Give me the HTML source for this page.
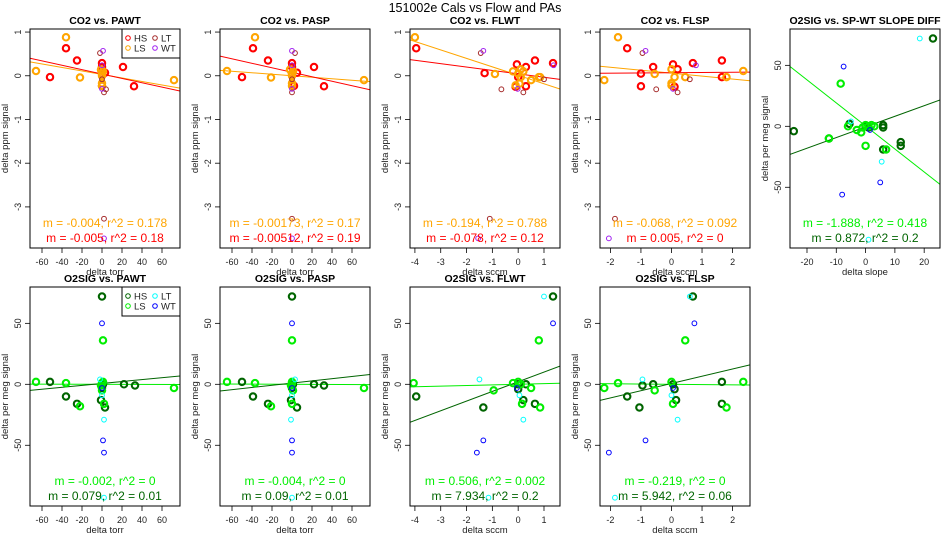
<!DOCTYPE html>
<html><head><meta charset="utf-8"><style>
body{margin:0;background:#fff;}
svg{display:block;font-family:"Liberation Sans",sans-serif;}
</style></head><body>
<svg id="c" width="950" height="550" viewBox="0 0 950 550">
<text x="475" y="12" text-anchor="middle" font-size="12.5">151002e   Cals vs Flow and PAs</text>
</svg>
<script>
// ---- data (x, y) per panel / group ----
const co2pawt_hs=[[-36,0.63],[-25,0.35],[-52,-0.03],[21,0.2],[32,-0.24],[0,0.29],[0,0.2],[3,0.07],[0,-0.23],[0,0.05]];
const co2pawt_ls=[[-36,0.88],[-66,0.11],[-22,-0.04],[72,-0.1],[-1,0.14],[0,0.05],[0,-0.23],[0,-0.17],[1,0.1],[0,0]];
const co2pawt_lt=[[-2,0.52],[2,-0.38],[4,-0.31],[0,-0.08],[2,-3.27]];
const co2pawt_wt=[[1,0.57],[0,0.24],[0,-0.3],[2,-3.72]];
const co2pasp_hs=[[-39,0.63],[-24,0.35],[-50,-0.03],[22,0.2],[32,-0.24],[0,0.29],[0,0.2],[5,0.07],[2,-0.23],[0,0.05]];
const co2pasp_ls=[[-37,0.88],[-65,0.11],[-21,-0.04],[72,-0.1],[-2,0.14],[0,0.05],[0,-0.23],[0,-0.17],[1,0.1],[0,0]];
const co2pasp_lt=[[0,-0.38],[3,0.52],[0,-0.08],[0,-3.27]];
const co2pasp_wt=[[0,0.57],[0,0.24],[0,-0.3],[0,-3.72]];
const co2flwt_hs=[[-3.95,0.63],[-1.3,0.06],[-0.05,0.26],[0.3,0.2],[0.65,0.35],[1.35,0.29],[0,-0.03],[0.3,-0.24],[0.1,0.15],[-0.1,-0.25]];
const co2flwt_ls=[[-4.0,0.88],[-0.2,0.1],[0,0.05],[0.1,-0.03],[0.2,0.1],[0.1,0.15],[-0.1,-0.22],[-0.9,0.04],[0.5,-0.1],[0.8,-0.03],[0.85,-0.03],[0.05,-0.18]];
const co2flwt_lt=[[-1.45,0.52],[-0.65,-0.31],[0.2,-0.38],[1.0,-0.08],[-1.1,-3.27]];
const co2flwt_wt=[[-1.35,0.57],[-0.02,-0.3],[1.37,0.24],[-1.55,-3.72]];
const co2flsp_hs=[[-1.45,0.63],[-1.0,0.05],[-0.6,0.2],[-1.0,-0.24],[0.05,0.26],[0.2,0.15],[0.7,0.29],[1.65,0.35],[1.65,-0.03],[0.1,-0.25]];
const co2flsp_ls=[[-1.75,0.88],[-2.2,-0.1],[-0.55,0.04],[0,0.15],[0,-0.17],[0,-0.22],[0.1,-0.03],[0.45,-0.03],[1.8,-0.03],[2.35,0.11]];
const co2flsp_lt=[[-0.95,0.52],[-0.5,-0.31],[0.2,-0.38],[0.6,-0.08],[-1.85,-3.27]];
const co2flsp_wt=[[-0.85,0.57],[0.05,-0.3],[0.8,0.24],[-2.05,-3.72]];
const slope_hs=[[23,72],[-24.5,-4],[-12.5,-10],[-5.5,2],[6,1],[6,-1],[6,-19],[12,-13],[12,-16],[1,-1],[0,0]];
const slope_ls=[[-8.5,35],[-6,0],[-1.5,-5],[-3,-3],[0,-16],[1,0],[2,1],[3,0],[-1,-1],[7,-19],[-12.5,-10],[0,1]];
const slope_lt=[[18.5,72],[-5,4],[5.5,-29],[1,-93]];
const slope_wt=[[-7.5,49],[-8,-56],[5,-46],[1.5,-3]];
const o2pawt_hs=[[0,72],[-52,2],[-36,-10],[-25,-16],[-1,-13],[3,-19],[22,0],[33,-1],[0,-3],[1,0]];
const o2pawt_ls=[[-66,2],[-36,1],[-22,-18],[1,36],[0,1],[-1,-1],[2,-16],[0,-5],[72,-3],[1,2]];
const o2pawt_lt=[[-2,4],[2,-29],[2,-93],[0,-9]];
const o2pawt_wt=[[0,50],[1,-46],[2,-56],[0,-3]];
const o2pasp_hs=[[0,72],[-50,2],[-39,-10],[-24,-16],[-1,-13],[5,-19],[22,0],[32,-1],[0,-3],[1,0]];
const o2pasp_ls=[[-65,2],[-37,1],[-21,-18],[0,36],[0,1],[-1,-1],[0,-16],[1,-5],[72,-3],[0,2]];
const o2pasp_lt=[[3,4],[-1,-29],[0,-93],[0,-9]];
const o2pasp_wt=[[0,50],[0,-46],[0,-56],[0,-3]];
const o2flwt_hs=[[-3.95,-10],[-1.35,-19],[0,0],[0.3,0],[0.2,-13],[0.65,-16],[1.35,72],[0,-4]];
const o2flwt_ls=[[-4.05,1],[-0.95,-5],[-0.2,1],[0,2],[0.5,-3],[0.8,36],[0.85,-19],[0.15,-16],[0.1,0]];
const o2flwt_lt=[[-1.5,4],[0.05,-9],[0.2,-29],[1.0,72],[-1.15,-93]];
const o2flwt_wt=[[-1.6,-56],[-1.35,-46],[1.35,50],[-0.05,-3]];
const o2flsp_hs=[[-1.45,-10],[-1.05,-19],[-0.95,-1],[-0.6,0],[0.05,0],[0.1,-4],[0.15,-13],[0.7,72],[1.65,2],[1.65,-16]];
const o2flsp_ls=[[-2.2,-3],[-1.75,1],[-0.55,-5],[0,2],[0.05,-16],[0.45,36],[1.8,-19],[2.35,2]];
const o2flsp_lt=[[-0.95,4],[0,-9],[0.2,-29],[0.6,72],[-1.85,-93]];
const o2flsp_wt=[[-2.05,-56],[-0.85,-46],[0.75,50],[0.05,-3]];
// fit lines [slope, intercept] and stats labels
const fitsSlopes=[[-0.004,-0.005],[-0.00173,-0.00512],[-0.194,-0.078],[-0.068,0.005],[-1.888,0.872],[-0.002,0.079],[-0.004,0.09],[0.506,7.934],[-0.219,5.942]];
const fitsIntercepts=[[0.03,0.04],[0.0,0.08],[0.01,0.043],[0.06,0.07],[0.3,-0.5],[0,0.7],[0,1],[0,2.1],[0,0.7]];
const statLabels=[["m = -0.004, r^2 = 0.178","m = -0.005, r^2 = 0.18"],["m = -0.00173, r^2 = 0.17","m = -0.00512, r^2 = 0.19"],["m = -0.194, r^2 = 0.788","m = -0.078, r^2 = 0.12"],["m = -0.068, r^2 = 0.092","m = 0.005, r^2 = 0"],["m = -1.888, r^2 = 0.418","m = 0.872, r^2 = 0.2"],["m = -0.002, r^2 = 0","m = 0.079, r^2 = 0.01"],["m = -0.004, r^2 = 0","m = 0.09, r^2 = 0.01"],["m = 0.506, r^2 = 0.002","m = 7.934, r^2 = 0.2"],["m = -0.219, r^2 = 0","m = 5.942, r^2 = 0.06"]];
const titles=["CO2 vs. PAWT","CO2 vs. PASP","CO2 vs. FLWT","CO2 vs. FLSP","O2SIG vs. SP-WT SLOPE DIFF","O2SIG vs. PAWT","O2SIG vs. PASP","O2SIG vs. FLWT","O2SIG vs. FLSP"];
const xlabels=["delta torr","delta torr","delta sccm","delta sccm","delta slope","delta torr","delta torr","delta sccm","delta sccm"];
const xTicksTorr=[-60,-40,-20,0,20,40,60];
const xTicksFlwt=[-4,-3,-2,-1,0,1];
const xTicksFlsp=[-2,-1,0,1,2];
const xTicksSlope=[-20,-10,0,10,20];
const yTicksCO2=[1,0,-1,-2,-3];
const yTicksO2=[50,0,-50];

const NS="http://www.w3.org/2000/svg";
const svg=document.getElementById('c');
function mk(tag,attrs,parent){const e=document.createElementNS(NS,tag);for(const k in attrs)e.setAttribute(k,attrs[k]);(parent||svg).appendChild(e);return e;}
const CO2C={hs:"#ff0000",ls:"#ffa500",lt:"#a52a2a",wt:"#a020f0"};
const O2C={hs:"#006400",ls:"#00ee00",lt:"#00ffff",wt:"#0000ff"};
const panels=[
 {col:0,row:0,xl:[-72,78],xt:xTicksTorr,co2:true,d:[co2pawt_hs,co2pawt_ls,co2pawt_lt,co2pawt_wt],leg:true},
 {col:1,row:0,xl:[-72,78],xt:xTicksTorr,co2:true,d:[co2pasp_hs,co2pasp_ls,co2pasp_lt,co2pasp_wt]},
 {col:2,row:0,xl:[-4.19,1.62],xt:xTicksFlwt,co2:true,d:[co2flwt_hs,co2flwt_ls,co2flwt_lt,co2flwt_wt]},
 {col:3,row:0,xl:[-2.34,2.57],xt:xTicksFlsp,co2:true,d:[co2flsp_hs,co2flsp_ls,co2flsp_lt,co2flsp_wt]},
 {col:4,row:0,xl:[-25.8,25.4],xt:xTicksSlope,co2:false,d:[slope_hs,slope_ls,slope_lt,slope_wt]},
 {col:0,row:1,xl:[-72,78],xt:xTicksTorr,co2:false,d:[o2pawt_hs,o2pawt_ls,o2pawt_lt,o2pawt_wt],leg:true},
 {col:1,row:1,xl:[-72,78],xt:xTicksTorr,co2:false,d:[o2pasp_hs,o2pasp_ls,o2pasp_lt,o2pasp_wt]},
 {col:2,row:1,xl:[-4.19,1.62],xt:xTicksFlwt,co2:false,d:[o2flwt_hs,o2flwt_ls,o2flwt_lt,o2flwt_wt]},
 {col:3,row:1,xl:[-2.34,2.57],xt:xTicksFlsp,co2:false,d:[o2flsp_hs,o2flsp_ls,o2flsp_lt,o2flsp_wt]}
];
const keys=["hs","ls","lt","wt"];
panels.forEach((p,i)=>{
  const x0=30+190*p.col,x1=x0+150,y0=29+258*p.row,y1=y0+219;
  const yl=p.co2?[-3.94,1.07]:[-99.8,79.8];
  const sx=v=>x0+(v-p.xl[0])/(p.xl[1]-p.xl[0])*150;
  const sy=v=>y1-(v-yl[0])/(yl[1]-yl[0])*219;
  const C=p.co2?CO2C:O2C;
  const g=mk('g',{});
  
  
  const clipId='cl'+i;
  const cp=mk('clipPath',{id:clipId},g);mk('rect',{x:x0,y:y0,width:150,height:219},cp);
  const t=mk('text',{x:(x0+x1)/2,y:y0-5,'text-anchor':'middle','font-size':10.5,'font-weight':'bold'},g);t.textContent=titles[i];
  
  p.xt.forEach(v=>{const X=sx(v);mk('line',{x1:X,x2:X,y1:y1,y2:y1+5,stroke:'#000','stroke-width':0.8},g);
    const tt=mk('text',{x:X,y:y1+17,'text-anchor':'middle','font-size':9,fill:'#222'},g);tt.textContent=v;
    });
  const xl=mk('text',{x:(x0+x1)/2,y:y1+27,'text-anchor':'middle','font-size':9.5,fill:'#222'},g);xl.textContent=xlabels[i];
  
  (p.co2?yTicksCO2:yTicksO2).forEach(v=>{const Y=sy(v);mk('line',{x1:x0-5,x2:x0,y1:Y,y2:Y,stroke:'#000','stroke-width':0.8},g);
    const tt=mk('text',{x:x0-9,y:Y,'text-anchor':'middle','font-size':9,fill:'#222',transform:`rotate(-90 ${x0-9} ${Y})`},g);tt.textContent=v;
    });
  const yx=x0-22,yy=(y0+y1)/2;
  const ylb=mk('text',{x:yx,y:yy,'text-anchor':'middle','font-size':9.5,fill:'#222',transform:`rotate(-90 ${yx} ${yy})`},g);
  ylb.textContent=p.co2?"delta ppm signal":"delta per meg signal";
  
  const inner=mk('g',{'clip-path':`url(#${clipId})`},g);
  [[0,'ls'],[1,'hs']].forEach(([j,k])=>{const m=fitsSlopes[i][j],b=fitsIntercepts[i][j];
    const l=mk('line',{x1:sx(p.xl[0]),y1:sy(m*p.xl[0]+b),x2:sx(p.xl[1]),y2:sy(m*p.xl[1]+b),stroke:C[k],'stroke-width':1},inner);
    });
  p.d.forEach((arr,gi)=>{const k=keys[gi],thick=gi<2;
    arr.forEach(([vx,vy])=>{const c=mk('circle',{cx:sx(vx),cy:sy(vy),r:thick?3.2:2.4,fill:'none',stroke:C[k],'stroke-width':thick?2.1:1},inner);
      });});
  const s1=mk('text',{x:(x0+x1)/2,y:y1-21,'text-anchor':'middle','font-size':12,fill:C.ls},g);s1.textContent=statLabels[i][0];
  
  const s2=mk('text',{x:(x0+x1)/2,y:y1-6,'text-anchor':'middle','font-size':12,fill:C.hs},g);s2.textContent=statLabels[i][1];
  
  mk('rect',{x:x0,y:y0,width:150,height:219,fill:'none',stroke:'#000','stroke-width':1},g);
  if(p.leg){
    const lg=mk('g',{},g);
    mk('rect',{x:x1-58,y:y0,width:58,height:29,fill:'#fff',stroke:'#000','stroke-width':1},lg);
    const lab={hs:"HS",ls:"LS",lt:"LT",wt:"WT"};
    [['hs',0,0],['lt',1,0],['ls',0,1],['wt',1,1]].forEach(([k,cx,cy])=>{
      const e=mk('g',{},lg);
      const lx=x1-52+cx*27,ly=y0+9+cy*10;
      mk('circle',{cx:lx,cy:ly,r:2.3,fill:'none',stroke:C[k],'stroke-width':1},e);
      const tt=mk('text',{x:lx+6,y:ly+3.5,'font-size':9.5,fill:'#222'},e);tt.textContent=lab[k];});
  }
});
</script>
</body></html>
